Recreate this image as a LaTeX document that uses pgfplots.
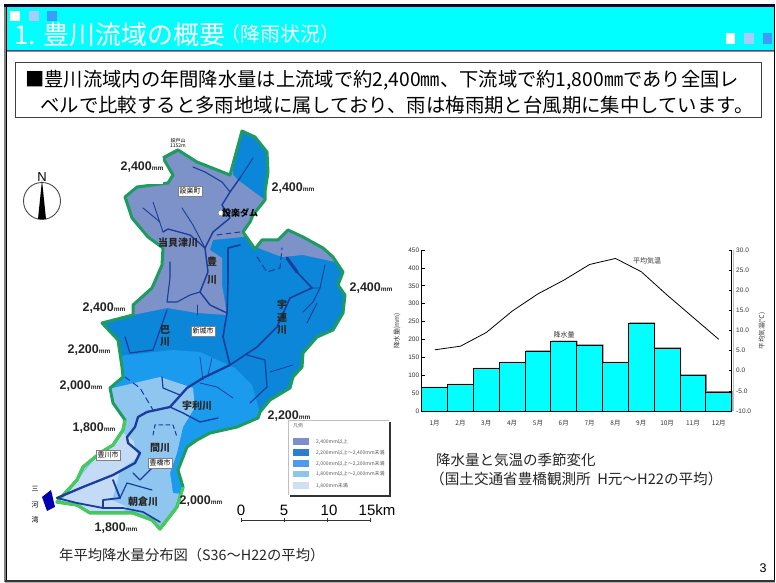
\documentclass[border=0pt]{standalone}
\usepackage{fontspec}
\usepackage{pgfplots}
\usepackage{pgfplotstable}
\pgfplotsset{compat=1.18}
\setmainfont{Liberation Sans}
\newfontfamily\jp{Noto Sans CJK JP}
\newcommand{\fs}[1]{\fontsize{#1}{#1}\selectfont}
\definecolor{pcyan}{HTML}{00FFFF}
\definecolor{zA}{HTML}{7C92C8}
\definecolor{zB}{HTML}{0C86D8}
\definecolor{zC}{HTML}{1A9BEE}
\definecolor{zD}{HTML}{8FC6F0}
\definecolor{zE}{HTML}{C4DBF5}
\definecolor{lgA}{HTML}{7B8FC8}
\definecolor{lgB}{HTML}{2B7FD0}
\definecolor{lgC}{HTML}{4D9CEA}
\definecolor{lgD}{HTML}{8FC4EB}
\definecolor{lgE}{HTML}{CFE0F3}
\definecolor{riv}{HTML}{1A3C9C}
\definecolor{grnA}{HTML}{1E9C60}
\definecolor{grnB}{HTML}{44CB5A}
\definecolor{chartxt}{HTML}{333333}
\pgfplotstableread{
m rain temp
1 65 5.2
2 73 6.1
3 118 9.5
4 135 14.8
5 167 19.1
6 194 22.5
7 184 26.4
8 135 27.9
9 245 24.6
10 175 18.8
11 100 13.3
12 53 7.8
}\climate
\def\basin{(242,131) -- (255,137) -- (267,152) -- (268,172) -- (265,192) -- (265,200) -- (253,215) -- (250,222) -- (243,232) -- (255,249) -- (262,240) -- (273,240) -- (278,240) -- (288,230) -- (303,237) -- (323,248) -- (333,257) -- (343,272) -- (338,285) -- (345,295) -- (343,313) -- (333,330) -- (317,337) -- (303,353) -- (302,367) -- (293,377) -- (290,388) -- (270,400) -- (260,412) -- (258,418) -- (237,427) -- (210,433) -- (197,440) -- (187,447) -- (178,470) -- (183,487) -- (177,507) -- (160,529) -- (152,520) -- (133,513) -- (120,513) -- (90,513) -- (77,505) -- (57,502) -- (77,480) -- (83,467) -- (100,453) -- (113,445) -- (123,430) -- (125,420) -- (113,403) -- (110,388) -- (123,377) -- (122,367) -- (118,340) -- (102,323) -- (133,315) -- (133,305) -- (152,288) -- (162,265) -- (163,248) -- (148,237) -- (132,218) -- (125,197) -- (137,187) -- (168,183) -- (173,175) -- (163,158) -- (178,150) -- (197,162) -- (230,175) -- cycle}
\begin{document}
\begin{tikzpicture}
\useasboundingbox (0,0) rectangle (776pt,583pt);
\begin{scope}[shift={(0pt,583pt)},x=1pt,y=-1pt]
\fill[white] (0,0) rectangle (776,583);
% slide frame
\fill[pcyan] (7,7) rectangle (774,50);
\fill[black!85!blue] (4,4) rectangle (774.5,7);
\fill[gray] (4,7) rectangle (5.5,582);
\fill[black] (5.5,7) rectangle (7,581);
\fill[black] (773.5,7) rectangle (775,581);
\fill[black!80] (5,580.5) rectangle (775,582);
\fill[gray!60] (5,582) rectangle (775,583);
\fill[black!75!blue!70] (7,50) rectangle (774,51);
\fill[blue!40!gray!70] (7,51) rectangle (774,52);
\fill[white] (10,11) rectangle (20,21);
\fill[white] (726,33) rectangle (735,44);
\definecolor{sqA}{HTML}{A9CCFF}\definecolor{sqB}{HTML}{3D9BFF}
\fill[sqA] (29,11) rectangle (39,21);
\fill[sqB] (47,11) rectangle (57,21);
\fill[sqA] (744,33) rectangle (754,44);
\fill[sqB] (763,33) rectangle (772,44);
\node[anchor=base west,inner sep=0,text=white,font=\jp\fs{26}] at (14,45) {1. 豊川流域の概要};
\node[anchor=base west,inner sep=0,text=white,font=\jp\fs{20}] at (220,42) {（降雨状況）};
% text box
\fill[gray!70] (16,63) rectangle (762,118.5);
\draw[black!75,line width=.8pt,fill=white] (15,62) rectangle (761,117);
\node[anchor=base west,inner sep=0,font=\jp\fs{19.3}] at (25,87) {■豊川流域内の年間降水量は上流域で約2,400㎜、下流域で約1,800㎜であり全国レ};
\node[anchor=base west,inner sep=0,font=\jp\fs{19.4}] at (40,112.5) {ベルで比較すると多雨地域に属しており、雨は梅雨期と台風期に集中しています。};
% basin zones
\begin{scope}
\clip \basin;
\fill[zB] (40,120) rectangle (360,540);
\fill[zA] (110,120) -- (233,120) -- (233,175) -- (238,180) -- (265,200) -- (275,215) -- (243,237) -- (213,240) -- (210,250) -- (222,258) -- (222,285) -- (227,315) -- (197,313) -- (167,308) -- (133,315) -- (100,325) -- cycle;
\fill[zA] (250,245) -- (282,257) -- (303,255) -- (335,262) -- (350,250) -- (300,222) -- (265,235) -- cycle;
\fill[zC] (100,358) -- (173,350) -- (200,352) -- (235,368) -- (252,385) -- (262,420) -- (230,440) -- (180,500) -- (100,470) -- cycle;
\fill[zD] (113,388) -- (160,377) -- (193,388) -- (195,407) -- (183,427) -- (177,453) -- (170,473) -- (173,493) -- (190,495) -- (190,535) -- (50,535) -- (50,500) -- (100,420) -- (105,392) -- cycle;
\fill[zE] (55,500) -- (80,477) -- (100,453) -- (123,433) -- (133,440) -- (138,457) -- (120,470) -- (117,483) -- (112,500) -- (127,507) -- (120,517) -- (87,517) -- cycle;
\end{scope}
\draw[grnA,line width=3pt,line join=round] \basin;
\draw[grnB,line width=3pt,line join=round] (125,420) -- (123,430) -- (113,445) -- (100,453) -- (83,467) -- (77,480) -- (57,502) -- (77,505) -- (90,513) -- (120,513) -- (133,513) -- (152,520) -- (160,529) -- (177,507) -- (183,487);
% white patch behind the label
\fill[white] (115,153) rectangle (163,184);
\draw[grnA,line width=3pt,line join=round] (163,158) -- (178,150);
% rivers
\begin{scope}[riv,line join=round,line cap=round]
\draw[line width=2.3pt] (57,498) -- (83,487) -- (113,475) -- (135,463) -- (140,453) -- (128,443) -- (127,437) -- (135,427) -- (138,417) -- (147,412) -- (170,407) -- (187,388) -- (203,378) -- (230,365);
\draw[line width=1.6pt] (230,365) -- (257,347) -- (277,327) -- (290,298) -- (312,288) -- (297,272);
\draw[line width=3pt] (297,272) -- (287,258);
\draw[line width=1.6pt] (230,365) -- (223,337) -- (227,313) -- (228,282) -- (228,248) -- (240,245);
\draw[line width=1.4pt] (227,313) -- (210,305) -- (200,292) -- (208,272) -- (205,248) -- (213,232) -- (230,218) -- (222,205) -- (230,192) -- (240,178);
\draw[line width=.9pt] (240,178) -- (253,158);
\draw[line width=1.1pt] (230,192) -- (222,182) -- (205,172) -- (193,167);
\draw[line width=.9pt] (205,248) -- (193,225) -- (182,208);
\draw[line width=.9pt] (163,232) -- (153,202);
\draw[line width=.9pt] (160,222) -- (143,208);
\draw[line width=1.3pt] (163,232) -- (168,229) -- (190,235) -- (205,248);
\draw[line width=1.1pt] (170,262) -- (170,278) -- (167,302) -- (177,302) -- (190,295) -- (200,292);
\draw[line width=.9pt] (197,305) -- (197,315);
\draw[line width=1.2pt] (167,310) -- (160,330) -- (153,350) -- (130,353) -- (125,337);
\draw[line width=.9pt] (325,265) -- (320,288) -- (312,288);
\draw[line width=.9pt] (320,288) -- (313,302) -- (303,312);
\draw[line width=.9pt] (317,303) -- (307,323);
\draw[line width=1.2pt] (247,355) -- (265,360) -- (267,387) -- (250,403);
\draw[line width=.8pt] (293,365) -- (270,372);
\draw[line width=.8pt] (200,383) -- (217,387) -- (233,398);
\draw[line width=1.2pt] (162,377) -- (163,388) -- (180,395);
\draw[line width=.7pt] (200,357) -- (203,380);
\draw[line width=.7pt] (212,358) -- (208,375);
\draw[line width=1.4pt] (170,407) -- (183,413) -- (200,422) -- (218,418);
\draw[line width=1pt,dash pattern=on 6pt off 4pt] (125,377) -- (140,388) -- (153,410);
\draw[line width=1pt,dash pattern=on 6pt off 4pt] (257,257) -- (267,272) -- (280,268) -- (282,248);
\draw[line width=1pt,dash pattern=on 5pt off 4pt] (217,235) -- (240,232);
\draw[line width=1pt,dash pattern=on 4pt off 3pt] (153,435) -- (155,425) -- (173,425) -- (177,437);
\draw[line width=1.8pt] (57,498) -- (77,503) -- (103,508) -- (103,500) -- (120,498) -- (113,480);
\draw[line width=1.6pt] (103,508) -- (123,508) -- (143,512) -- (160,522);
\draw[line width=1.2pt] (120,498) -- (127,483) -- (152,490);
\draw[line width=1.1pt] (133,473) -- (140,480) -- (157,463);
\fill[blue!70!black] (42,497) -- (51,490) -- (55,507) -- (47,511) -- cycle;
\end{scope}
% north arrow
\draw[black!70,line width=.9pt] (42,201) circle (18.5);
\fill[black] (42,180) -- (38,219) -- (46,219) -- cycle;
\node[font=\fs{13},inner sep=0] at (42,177) {N};
% isohyet labels
\def\rl#1#2#3{\node[font=\bfseries\fs{12.5},text=black!85,inner sep=0] at (#1,#2) {#3{\fs{6.5}mm}};}
\rl{142}{167}{2,400}
\rl{293}{188}{2,400}
\rl{371}{288}{2,400}
\rl{104}{308}{2,400}
\rl{89}{350}{2,200}
\rl{81}{386}{2,000}
\rl{94}{428}{1,800}
\rl{289}{416}{2,200}
\rl{201}{501}{2,000}
\rl{116}{528}{1,800}
% place names
\def\pl#1#2#3{\node[font=\jp\fs{7},fill=white,draw=black!50,line width=.3pt,inner sep=1.5pt] at (#1,#2) {#3};}
\pl{190}{191}{設楽町}
\pl{203}{331}{新城市}
\pl{108}{455}{豊川市}
\pl{160}{463}{豊橋市}
\def\rv#1#2#3{\node[font=\jp\bfseries\fs{10},text=black!85,inner sep=0] at (#1,#2) {#3};}
\rv{212}{262}{豊}\rv{212}{280}{川}
\rv{282}{305}{宇}\rv{282}{318}{連}\rv{282}{330}{川}
\rv{165}{330}{巴}\rv{165}{342}{川}
\rv{178}{243}{当貝津川}
\rv{197}{406}{宇利川}
\rv{160}{448}{間川}
\rv{143}{502}{朝倉川}
\fill[white] (221,213) circle (2.5);
\node[font=\jp\bfseries\fs{9},inner sep=0] at (240,213) {設楽ダム};
\node[font=\jp\fs{5},inner sep=0,align=center] at (178,143) {段戸山\\1152m};
\node[font=\jp\fs{7},inner sep=0] at (35,489) {三};
\node[font=\jp\fs{7},inner sep=0] at (35,505) {河};
\node[font=\jp\fs{7},inner sep=0] at (35,520) {湾};
% map legend
\fill[black!80] (290,422) rectangle (391,497);
\fill[white] (288,420) rectangle (389,495);
\draw[gray!50,line width=.5pt] (288,495) -- (288,420) -- (389,420);
\node[font=\jp\fs{5},text=black!60,inner sep=0,anchor=west] at (293,426) {凡例};
\def\lg#1#2#3#4{\fill[#1] (293,#2) rectangle (309,#3);
  \node[font=\jp\fs{5},text=black!65,inner sep=0,anchor=west] at (316,{(#2+#3)/2}) {#4};}
\lg{lgA}{438}{445}{2,400mm以上}
\lg{lgB}{449}{456}{2,200mm以上〜2,400mm未満}
\lg{lgC}{460}{467}{2,000mm以上〜2,200mm未満}
\lg{lgD}{471}{477}{1,800mm以上〜2,000mm未満}
\lg{lgE}{482}{489}{1,800mm未満}
% scale bar
\draw[black!80,line width=.9pt] (241,520) -- (370,520);
\foreach \x in {241,284,327,370} \draw[black!80,line width=.9pt] (\x,518) -- (\x,522);
\node[font=\fs{15},inner sep=0] at (241,510) {0};
\node[font=\fs{15},inner sep=0] at (284,510) {5};
\node[font=\fs{15},inner sep=0] at (329,510) {10};
\node[font=\fs{15},inner sep=0] at (377,510) {15km};
% captions
\node[font=\jp\fs{14.3},anchor=west,inner sep=0,text=black!85] at (59,555) {年平均降水量分布図（S36〜H22の平均）};
\node[font=\jp\fs{14.5},anchor=west,inner sep=0,text=black!85] at (436,460) {降水量と気温の季節変化};
\node[font=\jp\fs{14.6},anchor=west,inner sep=0,text=black!85] at (430,479) {（国土交通省豊橋観測所\ \ H元〜H22の平均）};
\node[font=\fs{12.5},inner sep=0] at (763,568) {3};
% light line beside right axis
\draw[gray!50,line width=.8pt] (733.5,250) -- (733.5,411);
\node[font=\jp\fs{7},text=chartxt,inner sep=0] at (647,261) {平均気温};
\node[font=\jp\fs{7},text=chartxt,inner sep=0] at (564,335) {降水量};
\end{scope}
% chart: rainfall bars
\begin{axis}[at={(421.7pt,172pt)},anchor=south west,scale only axis,width=310pt,height=161pt,
  xmin=0.5,xmax=12.5,ymin=0,ymax=450,
  axis y line*=left,axis x line*=bottom,
  axis line style={line width=.9pt,-},
  tick align=inside,
  xtick={1,...,12},xticklabels={1月,2月,3月,4月,5月,6月,7月,8月,9月,10月,11月,12月},
  xticklabel style={font=\jp\fs{6.5},text=chartxt,yshift=-3pt},
  x tick style={draw=none},
  ytick={0,50,...,450},
  yticklabel style={font=\fs{6.5},text=chartxt,xshift=1pt},
  y tick style={black,line width=.7pt},
  major tick length=3pt,
  /pgf/number format/assume math mode=true,
  every axis y label/.style={at={(axis description cs:-0.08,0.497)},rotate=90,anchor=center,font=\jp\fs{6.5},text=chartxt},
  ylabel={降水量(mm)},
  ybar,bar width=25.83pt,clip=false]
\addplot[fill=gray,draw=none,bar shift=1pt] table[x=m,y expr=\thisrow{rain}+2.5] {\climate};
\addplot[fill=pcyan,draw=black,line width=.8pt,bar shift=0pt] table[x=m,y=rain] {\climate};
\end{axis}
% chart: temperature line
\begin{axis}[at={(421.7pt,172pt)},anchor=south west,scale only axis,width=310pt,height=161pt,
  xmin=0.5,xmax=12.5,ymin=-10,ymax=30,
  axis y line*=right,axis x line=none,
  axis line style={line width=.9pt,-},
  tick align=inside,
  ytick={-10,-5,...,30},
  yticklabel style={font=\fs{6.5},text=chartxt,xshift=1pt,/pgf/number format/fixed,/pgf/number format/fixed zerofill,/pgf/number format/precision=1},
  y tick style={black,line width=.7pt},
  major tick length=3pt,
  /pgf/number format/assume math mode=true,
  every axis y label/.style={at={(axis description cs:1.098,0.497)},rotate=90,anchor=center,font=\jp\fs{6.5},text=chartxt},
  ylabel={平均気温(℃)}]
\addplot[black,line width=.8pt] table[x=m,y=temp] {\climate};
\end{axis}
\end{tikzpicture}
\end{document}
